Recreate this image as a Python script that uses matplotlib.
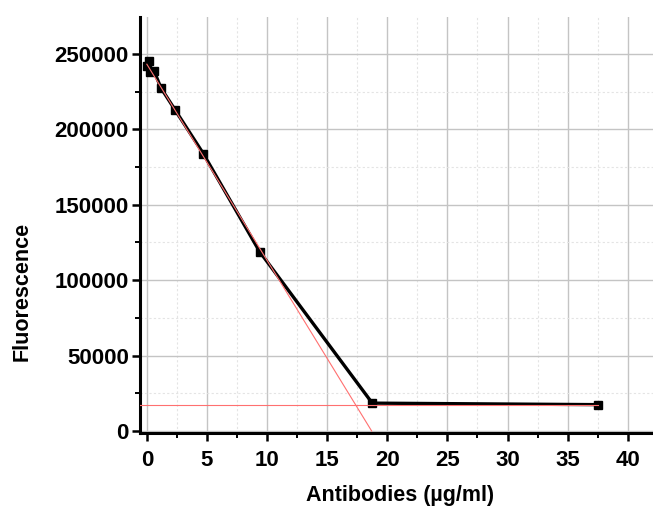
import numpy as np
import matplotlib
matplotlib.use("Agg")
import matplotlib.pyplot as plt
from matplotlib.ticker import MultipleLocator

params = {'font.family': ['Liberation Sans', 'DejaVu Sans'],
          'font.weight': 'bold',
          'xtick.labelsize': 16,
          'ytick.labelsize': 16,
          'axes.labelsize': 15.5,
          'axes.labelweight': 'bold'}
plt.rcParams.update(params)

# antibody dilution series (ug/ml) and measured fluorescence
conc = [0, 0.146, 0.293, 0.586, 1.17, 2.34, 4.69, 9.375, 18.75, 37.5]
fluo = [242000, 245500, 238000, 239000, 227500, 213000, 184000, 119000, 18500, 17500]

# red guide lines: linear fit of the descending part and the plateau level
fit_x = [0, 18.7]
fit_y = [243200, 0]
plateau_x = [-0.6, 37.5]
plateau_y = [17500, 17500]

fig = plt.figure(figsize=(6.53, 5.08), dpi=100)
ax = fig.add_axes([140/653, 75/508, 513/653, 416/508])

ax.plot(fit_x, fit_y, color='#ff7070', lw=0.8, zorder=4)
ax.plot(plateau_x, plateau_y, color='#ff7070', lw=0.8, zorder=4)
ax.plot(conc, fluo, color='black', lw=2.4, marker='s', markersize=6, zorder=3)

ax.set_xlim(-0.57, 42.1)
ax.set_ylim(-1300, 274500)

ax.xaxis.set_major_locator(MultipleLocator(5))
ax.xaxis.set_minor_locator(MultipleLocator(2.5))
ax.yaxis.set_major_locator(MultipleLocator(50000))
ax.yaxis.set_minor_locator(MultipleLocator(25000))

ax.grid(which='major', color='#c4c4c4', lw=1.0, ls='-')
ax.grid(which='minor', color='#e4e4e4', lw=0.8, ls=(0, (2, 2)))
ax.set_axisbelow(True)

for s in ['top', 'right']:
    ax.spines[s].set_visible(False)
for s in ['left', 'bottom']:
    ax.spines[s].set_linewidth(2.2)

ax.tick_params(which='major', direction='out', length=6, width=1.8, pad=2)
ax.tick_params(which='minor', direction='out', length=3.5, width=1.4)
ax.tick_params(axis='x', which='major', pad=6)

ax.set_xlabel('Antibodies (µg/ml)')
ax.set_ylabel('Fluorescence')
ax.xaxis.set_label_coords(0.507, -0.15)
ax.yaxis.set_label_coords(-0.23, 0.34)
ax.xaxis.label.set_va('center')
ax.yaxis.label.set_va('center')

fig.savefig('out.png', dpi=100)
